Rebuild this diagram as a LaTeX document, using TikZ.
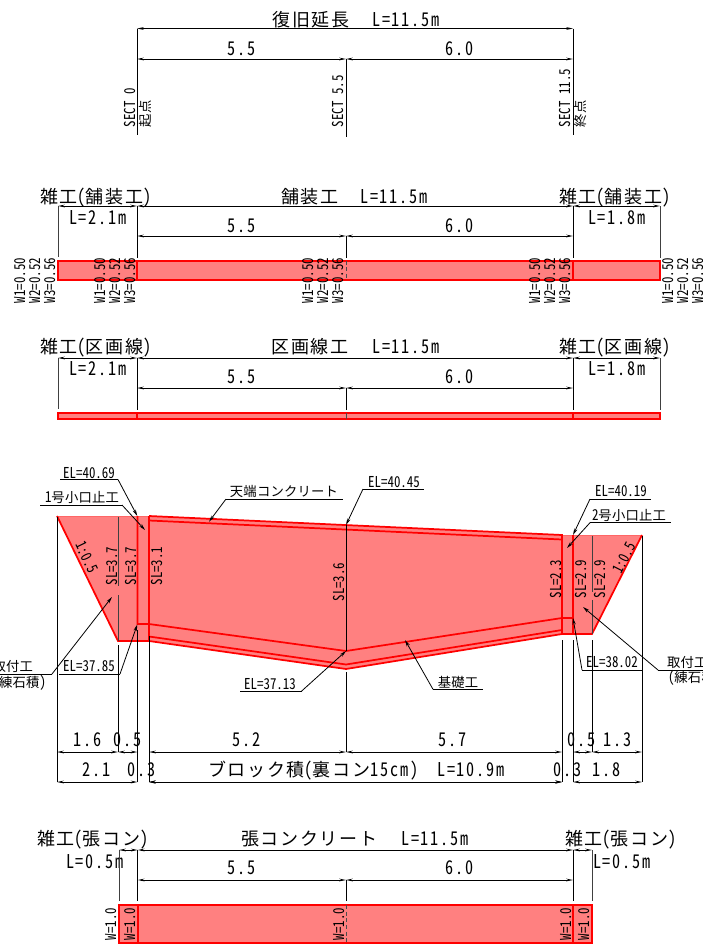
\documentclass[tikz,border=0pt]{standalone}
\usepackage{fontspec}
\usetikzlibrary{arrows.meta}
\setmainfont{Noto Sans CJK JP}
\newfontfamily\hwfont[RawFeature=+hwid,FakeStretch=0.86]{Noto Sans CJK JP}
\newfontfamily\hwlarge[RawFeature=+hwid,FakeStretch=0.85,LetterSpace=10]{Noto Sans CJK JP}
\newfontfamily\jplarge[LetterSpace=9.5]{Noto Sans CJK JP}
\newfontfamily\jpsmall[LetterSpace=1.5]{Noto Sans CJK JP}
% px = 0.75pt
\newcommand{\bigtxt}{\fontsize{13.5pt}{15pt}\selectfont}
\newcommand{\hwbig}{\fontsize{14.25pt}{15pt}\selectfont}
\newcommand{\hwsmall}{\fontsize{11.25pt}{12pt}\selectfont}
\newcommand{\smalltxt}{\fontsize{10pt}{11pt}\selectfont}
\newcommand{\Lt}[1]{{\hwlarge\hwbig #1}}
\newcommand{\Jt}[1]{{\jplarge\bigtxt #1}}
\newcommand{\St}[1]{{\hwfont\hwsmall #1}}
\newcommand{\Kt}[1]{{\jpsmall\smalltxt #1}}
\definecolor{pink}{HTML}{FF8080}
\tikzset{
 every node/.style={inner sep=0pt,outer sep=0pt,text=black},
 dl/.style={line width=0.75pt,black,{Stealth[length=5pt,width=2pt]}-{Stealth[length=5pt,width=2pt]}},
 lar/.style={line width=0.6pt,black,-{Stealth[length=5pt,width=2.5pt]}},
 ext/.style={line width=0.75pt,black},
 extg/.style={line width=0.75pt,black!75},
 ul/.style={line width=0.6pt,black},
 rline/.style={line width=1.3pt,red},
 rfill/.style={fill=pink,draw=red,line width=1.5pt},
 wt/.style={rotate=90,anchor=west},
 lab/.style={anchor=center},
}
\begin{document}
\begin{tikzpicture}[x=0.75pt,y=-0.75pt]
\useasboundingbox (0,0) rectangle (703,950);
% ===== Section 1
\node[lab] (t1a) at (311,19.5) {\Jt{復旧延長}};
\node[lab] (t1b) at (406,19.5) {\Lt{L=11.5m}};
\coordinate (a0) at (137,28.5); \coordinate (a1) at (573,28.5);
\coordinate (b0) at (137,59); \coordinate (b1) at (346,59); \coordinate (b2) at (573,59);
\draw[dl] (a0) -- (a1);
\draw[dl] (b0) -- (b1);
\draw[dl] (b1) -- (b2);
\draw[ext] (a0) -- (137,135);
\draw[ext] (b1) -- (346,137);
\draw[ext] (a1) -- (573,135);
\node[lab] (d1a) at (242,49) {\Lt{5.5}};
\node[lab] (d1b) at (460,49) {\Lt{6.0}};
\node[wt] (s1a) at (130,127) {\St{SECT 0}};
\node[wt] (s1b) at (145,127) {\Kt{起点}};
\node[wt] (s1c) at (338,127) {\St{SECT 5.5}};
\node[wt] (s1d) at (565,127) {\St{SECT 11.5}};
\node[wt] (s1e) at (580,127) {\Kt{終点}};
% ===== Section 2
\node[anchor=west] (t2a) at (40,197.5) {\Jt{雑工}\Lt{(}\Jt{舗装工}\Lt{)}};
\node[lab] (t2b) at (310,196.5) {\Jt{舗装工}};
\node[lab] (t2c) at (394,196.5) {\Lt{L=11.5m}};
\node[anchor=west] (t2d) at (559,197.5) {\Jt{雑工}\Lt{(}\Jt{舗装工}\Lt{)}};
\node[lab] (t2e) at (98,218) {\Lt{L=2.1m}};
\node[lab] (t2f) at (617,218) {\Lt{L=1.8m}};
\node[lab] (t2g) at (242,226) {\Lt{5.5}};
\node[lab] (t2h) at (460,226) {\Lt{6.0}};
\draw[dl] (58,206) -- (137,206);
\draw[dl] (137,206) -- (573,206);
\draw[dl] (573,206) -- (660,206);
\draw[dl] (137,236) -- (346,236);
\draw[dl] (346,236) -- (573,236);
\draw[extg] (58,206) -- (58,257);
\draw[ext] (137,206) -- (137,258);
\draw[ext] (346,236) -- (346,258);
\draw[ext] (573,206) -- (573,258);
\draw[extg] (660,206) -- (660,258);
\draw[rfill] (58,260.5) rectangle (660,280);
\draw[rline] (137,260.5) -- (137,280);
\draw[rline] (573,260.5) -- (573,280);
\draw[line width=0.6pt,black!70,densely dashed] (346,260.5) -- (346,280);
\foreach \x in {20,100,308,535,668}{
  \node[wt] at (\x,303) {\St{W1=0.50}};
  \node[wt] at (\x+15,303) {\St{W2=0.52}};
  \node[wt] at (\x+30,303) {\St{W3=0.56}};
}
% ===== Section 3
\node[anchor=west] (t3a) at (40,347.5) {\Jt{雑工}\Lt{(}\Jt{区画線}\Lt{)}};
\node[lab] (t3b) at (310,346.5) {\Jt{区画線工}};
\node[lab] (t3c) at (406,346.5) {\Lt{L=11.5m}};
\node[anchor=west] (t3d) at (559,347.5) {\Jt{雑工}\Lt{(}\Jt{区画線}\Lt{)}};
\node[lab] (t3e) at (98,369) {\Lt{L=2.1m}};
\node[lab] (t3f) at (617,369) {\Lt{L=1.8m}};
\node[lab] (t3g) at (242,377) {\Lt{5.5}};
\node[lab] (t3h) at (460,377) {\Lt{6.0}};
\draw[dl] (58,358) -- (137,358);
\draw[dl] (137,358) -- (573,358);
\draw[dl] (573,358) -- (660,358);
\draw[dl] (137,388) -- (346,388);
\draw[dl] (346,388) -- (573,388);
\draw[extg] (58,358) -- (58,409);
\draw[ext] (137,358) -- (137,410);
\draw[ext] (346,388) -- (346,410);
\draw[ext] (573,358) -- (573,410);
\draw[extg] (660,358) -- (660,410);
\draw[rfill] (58,413) rectangle (660,418.5);
\draw[rline] (137,413) -- (137,418.5);
\draw[rline] (573,413) -- (573,418.5);
\draw[line width=0.6pt,black!70] (346,413) -- (346,418.5);
% ===== Section 4
\fill[pink] (57,516) -- (149,516) -- (562,535) -- (642,535) -- (592,634) -- (562,634) -- (346,669) -- (149,641) -- (118,641) -- cycle;
\draw[line width=0.5pt,red!60] (57,516) -- (149,516);
\draw[line width=0.5pt,red!60] (562,535) -- (642,535);
\draw[rline] (57,516) -- (118,641) -- (149,641);
\draw[rline] (642,535) -- (592,634) -- (562,634);
\draw[rline] (137.5,516) -- (137.5,624) -- (149,624) -- (346,651) -- (562,618) -- (573,618);
\draw[rline] (149,516) -- (149,641) -- (346,669) -- (562,634);
\draw[rline] (149,636.5) -- (346,664.5) -- (562,630);
\draw[rline] (149,516) -- (562,535) -- (562,634);
\draw[rline] (149,520.5) -- (562,539.5);
\draw[rline] (573,535) -- (573,634);
% SL lines
\draw[extg] (118,516.5) -- (118,586);
\draw[extg] (118,595) -- (118,641);
\draw[extg] (592,535.5) -- (592,592);
\draw[extg] (592,600) -- (592,634);
\draw[ext] (346,525) -- (346,651);
\foreach \x/\y/\s in {112/566/SL=3.7,131/566/SL=3.7,157/566/SL=3.1,339/582/SL=3.6,556/579/SL=2.3,581/579/SL=2.9,600/579/SL=2.9}{
  \node[rotate=90] at (\x,\y) {\St{\s}};
}
\node[rotate=-64] (sl1) at (87,557) {\St{1:0.5}};
\node[rotate=63] (sl2) at (624,558) {\St{1:0.5}};
% lower extension lines
\draw[ext] (57,517) -- (57,782);
\draw[ext] (118,645) -- (118,752);
\draw[ext] (137.5,630) -- (137.5,782);
\draw[ext] (149,636) -- (149,782);
\draw[ext] (346,672) -- (346,752);
\draw[ext] (562,640) -- (562,782);
\draw[ext] (573,640) -- (573,782);
\draw[ext] (592,640) -- (592,752);
\draw[ext] (642,536) -- (642,782);
% leaders top-left
\node[lab] (el1) at (89,473) {\St{EL=40.69}};
\draw[ul] (60,479.5) -- (118,479.5);
\draw[lar] (118,479.5) -- (137.3,516);
\node[lab] (kg1) at (82,497) {\St{1}\Kt{号小口止工}};
\draw[ul] (40,505) -- (122,505);
\draw[lar] (122,505) -- (145,530);
\node[lab] (tn) at (284,491) {\Kt{天端コンクリート}};
\draw[ul] (226,499) -- (343,499);
\draw[lar] (226,499) -- (209,521.7);
\node[lab] (el2) at (394,482) {\St{EL=40.45}};
\draw[ul] (363,489) -- (424,489);
\draw[lar] (363,489) -- (346,525);
\node[lab] (el3) at (621,491) {\St{EL=40.19}};
\draw[ul] (590,499) -- (651,499);
\draw[lar] (590,499) -- (573,535);
\node[lab] (kg2) at (629,515) {\St{2}\Kt{号小口止工}};
\draw[ul] (590,522.7) -- (671,522.7);
\draw[lar] (590,522.7) -- (567,548);
% leaders bottom
\node[anchor=east] (tr1) at (33,666) {\Kt{取付工}};
\node[anchor=east] (tr2) at (46,683) {\St{(}\Kt{練石積}\St{)}};
\draw[ul] (0,674) -- (52,674);
\draw[lar] (52,674) -- (112,597);
\node[lab] (el4) at (89,666) {\St{EL=37.85}};
\draw[ul] (59,674) -- (120,674);
\draw[lar] (120,674) -- (137.3,624.5);
\node[lab] (el5) at (270,684) {\St{EL=37.13}};
\draw[ul] (240,691) -- (301.7,691);
\draw[lar] (301.7,691) -- (346,651);
\node[lab] (kso) at (458,682) {\Kt{基礎工}};
\draw[ul] (433,689.3) -- (483,689.3);
\draw[lar] (433,689.3) -- (405,640);
\node[lab] (el6) at (612,662) {\St{EL=38.02}};
\draw[ul] (582,670) -- (643,670);
\draw[lar] (582,670) -- (573,618);
\node[anchor=west] (tr3) at (667,662) {\Kt{取付工}};
\node[anchor=west] (tr4) at (668,678) {\St{(}\Kt{練石積}};
\draw[ul] (658,670) -- (703,670);
\draw[lar] (658,670) -- (583,607);
% dims
\draw[dl] (57,752) -- (118,752);
\draw[dl] (118,752) -- (137.5,752);
\draw[dl] (149,752) -- (346,752);
\draw[dl] (346,752) -- (562,752);
\draw[dl] (573,752) -- (592,752);
\draw[dl] (592,752) -- (642,752);
\draw[dl] (57,782) -- (137.5,782);
\draw[dl] (149,782) -- (562,782);
\draw[dl] (573,782) -- (642,782);
\draw[lar] (167,782) -- (149,782);
\draw[lar] (544,782) -- (562,782);
\node[lab] (v1) at (88,740) {\Lt{1.6}};
\node[lab] (v2) at (128,740) {\Lt{0.5}};
\node[lab] (v3) at (247,740) {\Lt{5.2}};
\node[lab] (v4) at (453,740) {\Lt{5.7}};
\node[lab] (v5) at (582,740) {\Lt{0.5}};
\node[lab] (v6) at (618,740) {\Lt{1.3}};
\node[lab] (v7) at (97,770) {\Lt{2.1}};
\node[lab] (v8) at (142,770) {\Lt{0.3}};
\node[anchor=west] (v9) at (208,771) {\Jt{ブロック積}\Lt{(}\Jt{裏コン}\Lt{15cm)}};
\node[lab] (v10) at (471,770) {\Lt{L=10.9m}};
\node[lab] (v11) at (568,770) {\Lt{0.3}};
\node[lab] (v12) at (607,770) {\Lt{1.8}};
% ===== Section 5
\node[anchor=west] (t5a) at (37,839.5) {\Jt{雑工}\Lt{(}\Jt{張コン}\Lt{)}};
\node[anchor=west] (t5b) at (241,838.5) {\Jt{張コンクリート}};
\node[lab] (t5c) at (435,838.5) {\Lt{L=11.5m}};
\node[anchor=west] (t5d) at (565,839.5) {\Jt{雑工}\Lt{(}\Jt{張コン}\Lt{)}};
\node[lab] (t5e) at (95,862) {\Lt{L=0.5m}};
\node[lab] (t5f) at (622,862) {\Lt{L=0.5m}};
\node[lab] (t5g) at (242,868) {\Lt{5.5}};
\node[lab] (t5h) at (460,868) {\Lt{6.0}};
\draw[dl] (119,850) -- (137.7,850);
\draw[dl] (137.7,850) -- (573,850);
\draw[dl] (573,850) -- (592,850);
\draw[dl] (137.7,880) -- (346,880);
\draw[dl] (346,880) -- (573,880);
\draw[extg] (119,850) -- (119,901);
\draw[ext] (137.7,850) -- (137.7,901);
\draw[ext] (346,880) -- (346,901);
\draw[ext] (573,850) -- (573,901);
\draw[extg] (592,850) -- (592,901);
\draw[rfill] (119,905) rectangle (592,943);
\draw[rline] (137.7,905) -- (137.7,943);
\draw[rline] (573,905) -- (573,943);
\draw[line width=0.6pt,black!70,densely dashed] (346,905) -- (346,943);
\foreach \x in {111,130,339,566,584}{
  \node[wt] at (\x,940) {\St{W=1.0}};
}
\end{tikzpicture}
\end{document}
